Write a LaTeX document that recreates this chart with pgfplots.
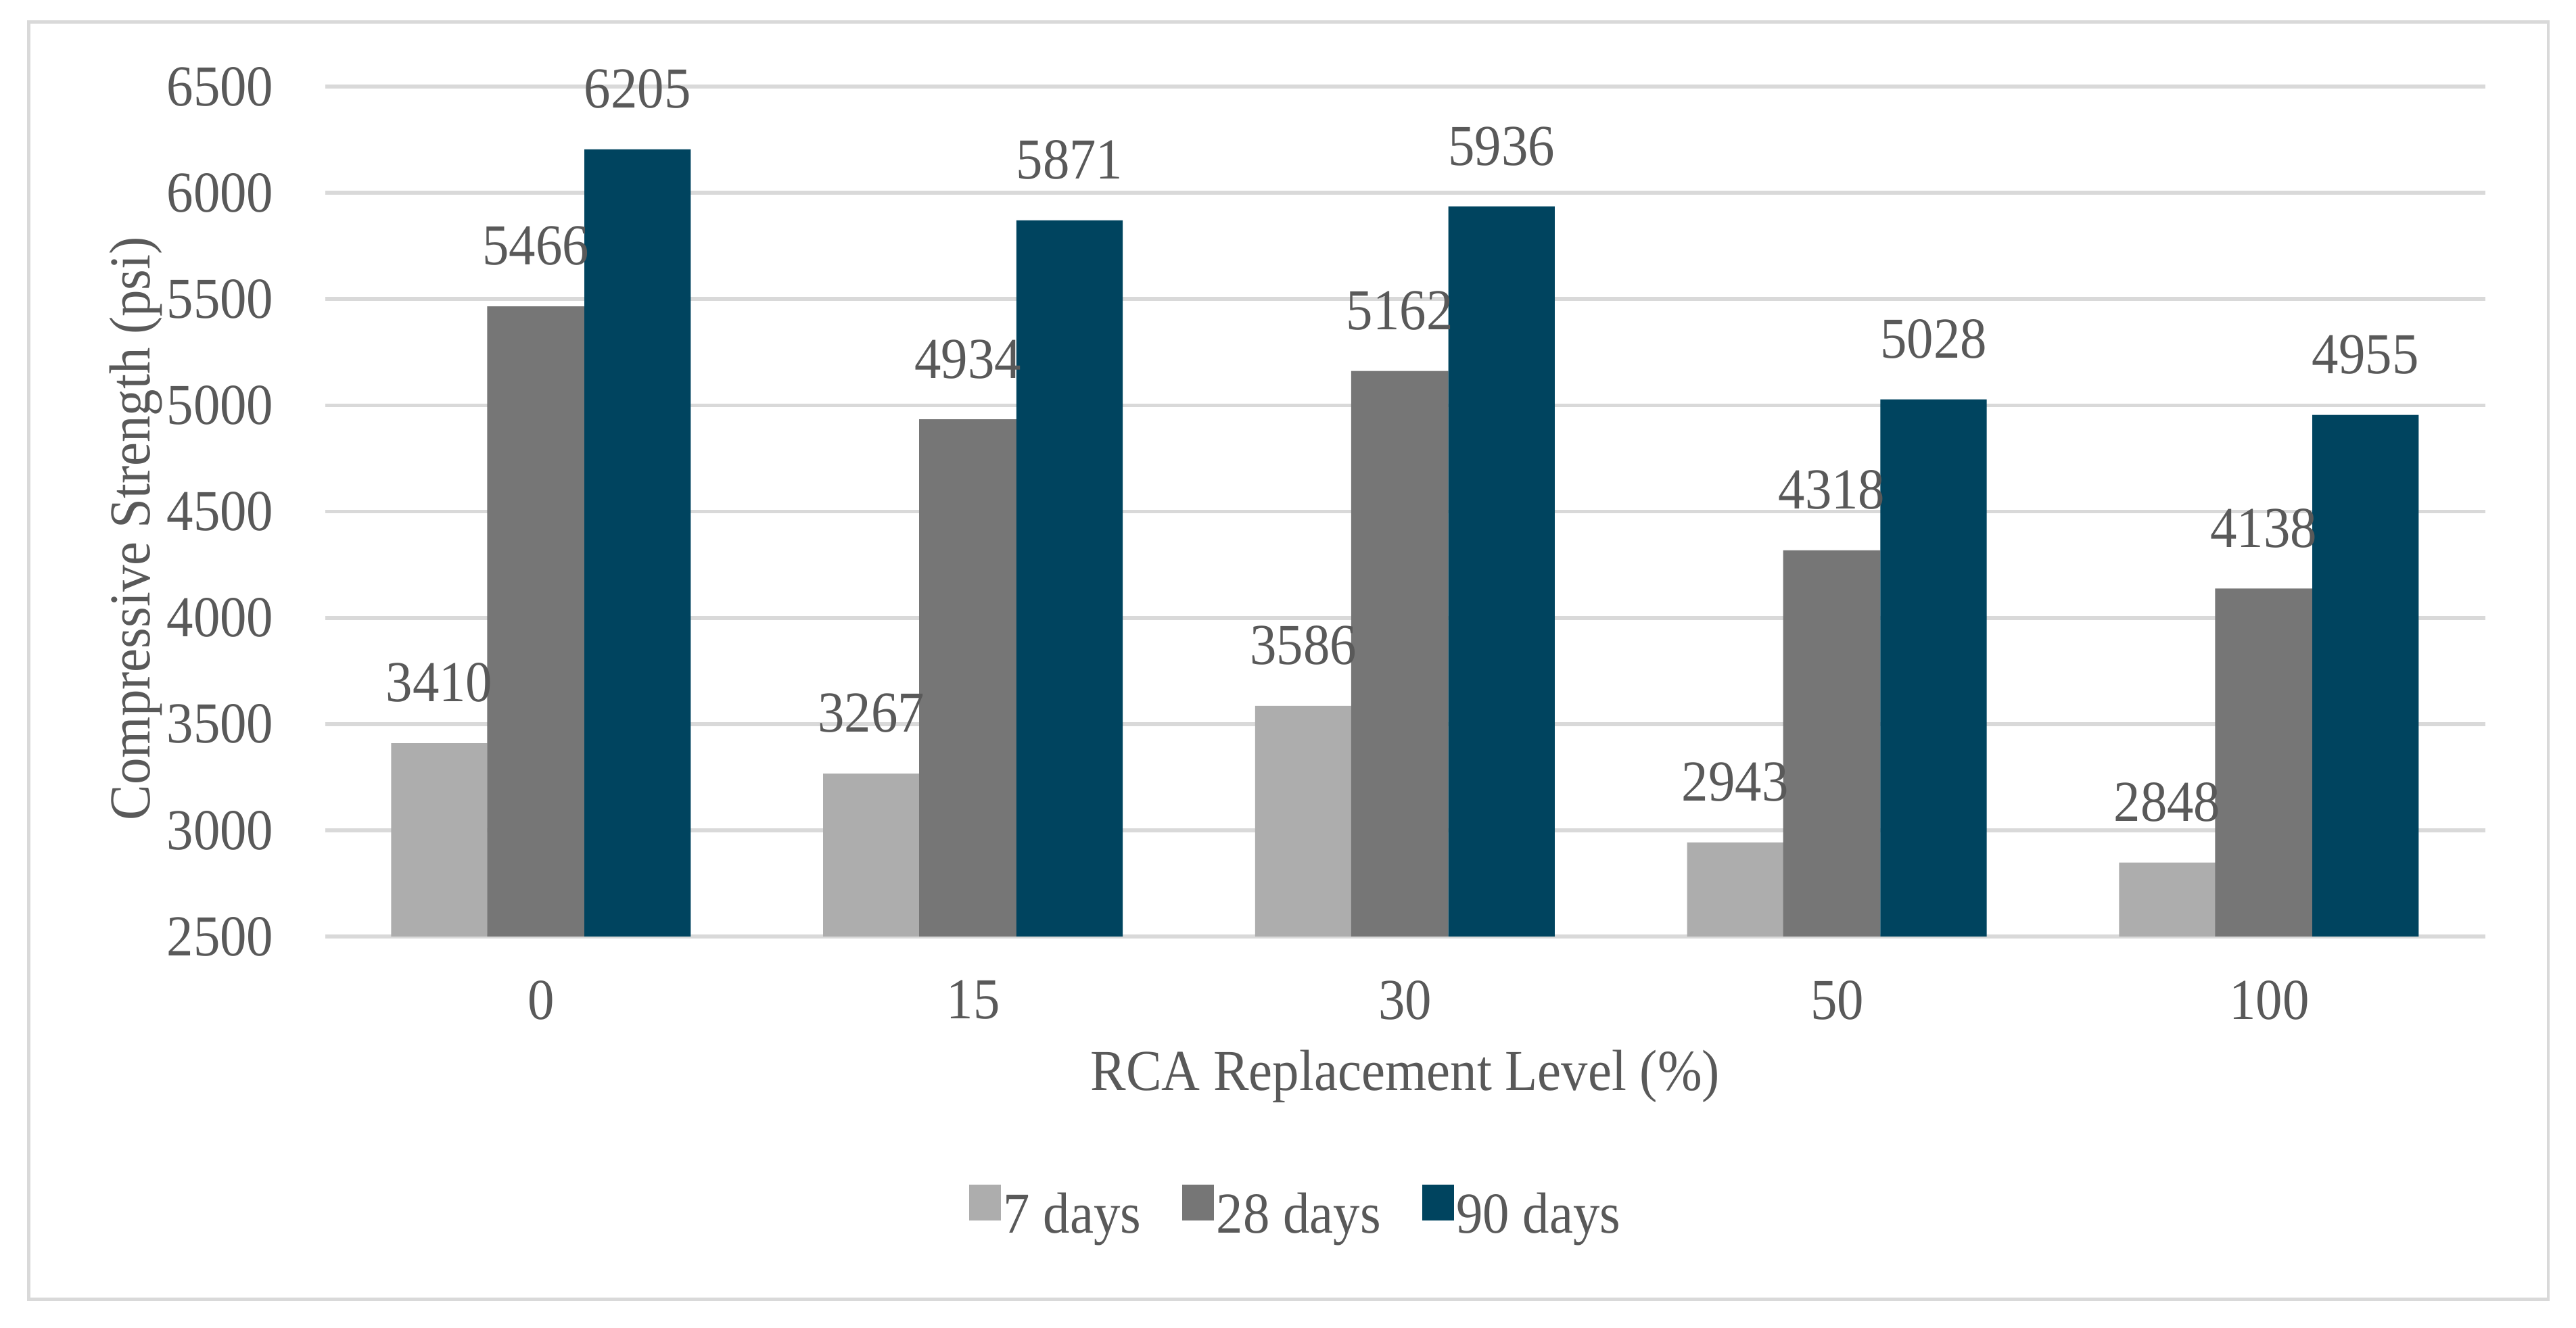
\documentclass[border=0pt]{standalone}
\usepackage{fontspec}
\setmainfont{Liberation Serif}[FakeStretch=0.92]
\usepackage{pgfplots}
\pgfplotsset{compat=1.18}
\definecolor{sevenc}{HTML}{ADADAD}
\definecolor{twentyc}{HTML}{767676}
\definecolor{ninetyc}{HTML}{00445F}
\definecolor{txt}{HTML}{595959}
\definecolor{gridc}{HTML}{D9D9D9}
\begin{document}
\begin{tikzpicture}
\path[use as bounding box] (0,0) rectangle (400pt,206.25pt);
\draw[gridc, line width=0.5pt] (4.5pt,4.5pt) rectangle (395.7pt,202.8pt);
\begin{axis}[
  at={(50.5pt,60.8pt)}, anchor=south west,
  scale only axis, width=335.4pt, height=132pt,
  xmin=-0.5, xmax=4.5, ymin=2500, ymax=6500,
  xtick={0,1,2,3,4}, xticklabels={0,15,30,50,100},
  ytick={2500,3000,...,6500},
  scaled y ticks=false,
  /pgf/number format/1000 sep={},
  /pgf/number format/assume math mode=true,
  axis line style={draw=none},
  major tick length=0pt,
  ymajorgrids, grid style={gridc, line width=0.6pt},
  font=\fontsize{9}{10.8}\selectfont,
  every tick label/.append style={font=\fontsize{9}{10.8}\selectfont, text=txt},
  yticklabel style={xshift=-4.5pt},
  xticklabel style={yshift=-3.3pt},
  xlabel={RCA Replacement Level (\%)},
  ylabel={Compressive Strength (psi)},
  xlabel style={at={(axis description cs:0.5,-0.181)}, anchor=base, text=txt, font=\fontsize{9}{10.8}\selectfont},
  ylabel style={at={(axis description cs:-0.0877,0.48)}, anchor=center, text=txt, font=\fontsize{9}{10.8}\selectfont},
  ybar,
  nodes near coords,
  every node near coord/.append style={font=\fontsize{9}{10.8}\selectfont, text=txt, yshift=2.8pt},
  legend columns=3,
  legend image code/.code={\fill[#1] (0pt,-0.4pt) rectangle (4.9pt,5.2pt);},
  legend style={at={(0.449,-0.326)}, anchor=center, draw=none, fill=none,
    inner sep=0pt, font=\fontsize{9}{10.8}\selectfont, text=txt,
    nodes={inner sep=0pt, text=txt},
    /tikz/every odd column/.style={column sep=0.4pt},
    /tikz/every even column/.style={column sep=6.4pt}},
]
\addplot[fill=sevenc, draw=none, bar width=0.223, bar shift=-0.236]
  coordinates {(0,3410) (1,3267) (2,3586) (3,2943) (4,2848)};
\addplot[fill=twentyc, draw=none, bar width=0.225, bar shift=-0.0125]
  coordinates {(0,5466) (1,4934) (2,5162) (3,4318) (4,4138)};
\addplot[fill=ninetyc, draw=none, bar width=0.246, bar shift=0.223]
  coordinates {(0,6205) (1,5871) (2,5936) (3,5028) (4,4955)};
\legend{7 days, 28 days, 90 days}
\end{axis}
\end{tikzpicture}
\end{document}
